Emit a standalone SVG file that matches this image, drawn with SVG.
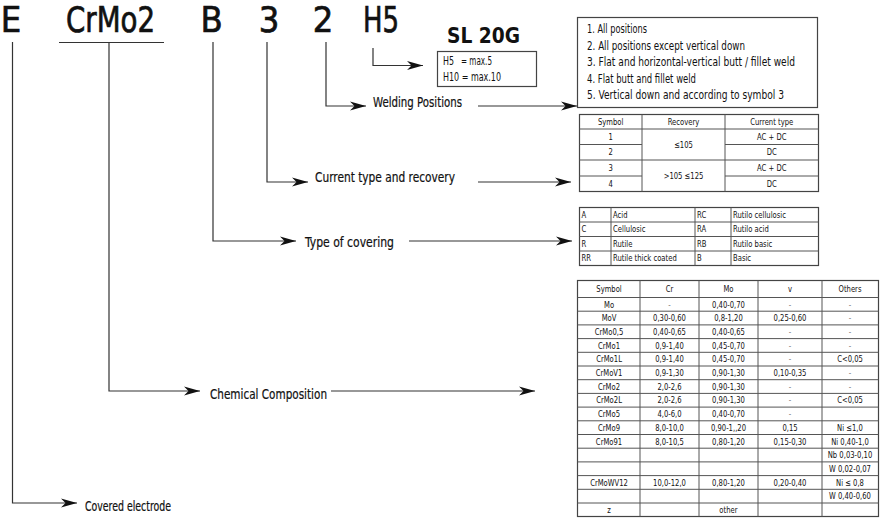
<svg xmlns="http://www.w3.org/2000/svg" width="882" height="521" viewBox="0 0 882 521">
<defs>
<style>
text{font-family:'Liberation Sans Narrow','DejaVu Sans Condensed','Liberation Sans',sans-serif;fill:#111}
.big{font-size:36px;stroke:#111;stroke-width:0.7}
.lbl{font-size:14px;stroke:#111;stroke-width:0.2}
.pos{font-size:11.5px}
.t{font-size:9.5px;text-anchor:middle}
.tl{font-size:9.5px}
.dash{fill:#777}
.conn{stroke:#333;stroke-width:1.2;fill:none}
.box{stroke:#444;stroke-width:1.2;fill:#fff}
.grid{stroke:#555;stroke-width:1;fill:none}
</style>
<marker id="ah" markerUnits="userSpaceOnUse" markerWidth="18" markerHeight="10" refX="16" refY="5" orient="auto"><path d="M0,0.5 L16,5 L0,9.5 L4.5,5 z" fill="#111"/></marker>
</defs>
<rect width="882" height="521" fill="#fff"/>

<g id="code-E"><text class="big" x="11" y="32" text-anchor="middle">E</text></g>
<g id="code-CrMo2"><text class="big" x="66" y="32" textLength="89" lengthAdjust="spacingAndGlyphs">CrMo2</text></g>
<g id="code-B"><text class="big" x="211.5" y="32" text-anchor="middle">B</text></g>
<g id="code-3"><text class="big" x="269" y="32" text-anchor="middle">3</text></g>
<g id="code-2"><text class="big" x="323" y="32" text-anchor="middle">2</text></g>
<g id="code-H5"><text class="big" x="363" y="32" textLength="36" lengthAdjust="spacingAndGlyphs">H5</text></g>

<g id="title"><text x="447" y="43" font-size="22" font-weight="bold" textLength="73" lengthAdjust="spacingAndGlyphs">SL 20G</text></g>

<g id="hydrogen-box">
<rect class="box" x="437.5" y="51.5" width="99" height="35"/>
<text class="pos" x="443" y="65" textLength="11" lengthAdjust="spacingAndGlyphs">H5</text>
<text class="pos" x="461" y="65" textLength="31" lengthAdjust="spacingAndGlyphs">= max.5</text>
<text class="pos" x="443" y="81" textLength="58" lengthAdjust="spacingAndGlyphs">H10 = max.10</text>
</g>

<g id="label-welding"><text class="lbl" x="373" y="107" textLength="89" lengthAdjust="spacingAndGlyphs">Welding Positions</text></g>
<g id="label-current"><text class="lbl" x="315" y="181.5" textLength="140" lengthAdjust="spacingAndGlyphs">Current type and recovery</text></g>
<g id="label-covering"><text class="lbl" x="305" y="246.5" textLength="89" lengthAdjust="spacingAndGlyphs">Type of covering</text></g>
<g id="label-chemical"><text class="lbl" x="210" y="399" textLength="117" lengthAdjust="spacingAndGlyphs">Chemical Composition</text></g>
<g id="label-electrode"><text class="lbl" x="85" y="511" textLength="86" lengthAdjust="spacingAndGlyphs">Covered electrode</text></g>

<g id="positions-box">
<rect class="box" x="577.5" y="17.5" width="240" height="90"/>
<text class="pos" x="587" y="33" textLength="60" lengthAdjust="spacingAndGlyphs">1. All positions</text>
<text class="pos" x="587" y="49.5" textLength="158" lengthAdjust="spacingAndGlyphs">2. All positions except vertical down</text>
<text class="pos" x="587" y="66" textLength="208" lengthAdjust="spacingAndGlyphs">3. Flat and horizontal-vertical butt / fillet weld</text>
<text class="pos" x="587" y="82.5" textLength="109" lengthAdjust="spacingAndGlyphs">4. Flat butt and fillet weld</text>
<text class="pos" x="587" y="99" textLength="197" lengthAdjust="spacingAndGlyphs">5. Vertical down and according to symbol 3</text>
</g>

<g id="current-table">
<rect class="box" x="579.5" y="114.5" width="239" height="77"/>
<path class="grid" d="M642,114.5V191.5 M725,114.5V191.5 M579.5,129H818.5 M725,144.5H818.5 M579.5,160H818.5 M725,176H818.5 M579.5,144.5H642 M579.5,176H642"/>
<g transform="scale(0.8,1)">
<text class="t" x="763.4" y="125">Symbol</text>
<text class="t" x="854.4" y="125">Recovery</text>
<text class="t" x="964.7" y="125">Current type</text>
<text class="t" x="763.4" y="140">1</text>
<text class="t" x="763.4" y="155.5">2</text>
<text class="t" x="763.4" y="171.5">3</text>
<text class="t" x="763.4" y="187.5">4</text>
<text class="t" x="854.4" y="148">≤105</text>
<text class="t" x="854.4" y="179.5">&gt;105 ≤125</text>
<text class="t" x="964.7" y="140">AC + DC</text>
<text class="t" x="964.7" y="155.5">DC</text>
<text class="t" x="964.7" y="171.5">AC + DC</text>
<text class="t" x="964.7" y="187.5">DC</text>
</g>
</g>

<g id="covering-table">
<rect class="box" x="579.5" y="207.5" width="239" height="58"/>
<path class="grid" d="M611,207.5V265.5 M695,207.5V265.5 M731,207.5V265.5 M579.5,222H818.5 M579.5,236.5H818.5 M579.5,251H818.5"/>
<g transform="scale(0.8,1)">
<text class="tl" x="726.9" y="218">A</text><text class="tl" x="766.3" y="218">Acid</text><text class="tl" x="871.3" y="218">RC</text><text class="tl" x="916.3" y="218">Rutilo cellulosic</text>
<text class="tl" x="726.9" y="232.5">C</text><text class="tl" x="766.3" y="232.5">Cellulosic</text><text class="tl" x="871.3" y="232.5">RA</text><text class="tl" x="916.3" y="232.5">Rutilo acid</text>
<text class="tl" x="726.9" y="247">R</text><text class="tl" x="766.3" y="247">Rutile</text><text class="tl" x="871.3" y="247">RB</text><text class="tl" x="916.3" y="247">Rutilo basic</text>
<text class="tl" x="726.9" y="261.5">RR</text><text class="tl" x="766.3" y="261.5">Rutile thick coated</text><text class="tl" x="871.3" y="261.5">B</text><text class="tl" x="916.3" y="261.5">Basic</text>
</g>
</g>

<g id="chemical-table">
<rect class="box" x="577.5" y="280.5" width="301" height="236"/>
<path class="grid" d="M640,280.5V516.5 M699,280.5V516.5 M758,280.5V516.5 M822,280.5V516.5
M577.5,297.5H878.5 M577.5,311.2H878.5 M577.5,324.9H878.5 M577.5,338.6H878.5 M577.5,352.3H878.5 M577.5,366H878.5 M577.5,379.7H878.5 M577.5,393.4H878.5 M577.5,407.1H878.5 M577.5,420.8H878.5 M577.5,434.5H878.5 M577.5,448.2H878.5 M577.5,461.9H878.5 M577.5,475.6H878.5 M577.5,489.3H878.5 M577.5,503H878.5"/>
<g transform="scale(0.8,1)">
<text class="t" x="761.3" y="292">Symbol</text><text class="t" x="836.9" y="292">Cr</text><text class="t" x="910.6" y="292">Mo</text><text class="t" x="987.5" y="292">v</text><text class="t" x="1062.5" y="292">Others</text>

<text class="t" x="761.3" y="307.6">Mo</text><text class="t dash" x="836.9" y="307.6">-</text><text class="t" x="910.6" y="307.6">0,40-0,70</text><text class="t dash" x="987.5" y="307.6">-</text><text class="t dash" x="1062.5" y="307.6">-</text>
<text class="t" x="761.3" y="321.3">MoV</text><text class="t" x="836.9" y="321.3">0,30-0,60</text><text class="t" x="910.6" y="321.3">0,8-1,20</text><text class="t" x="987.5" y="321.3">0,25-0,60</text><text class="t dash" x="1062.5" y="321.3">-</text>
<text class="t" x="761.3" y="335">CrMo0,5</text><text class="t" x="836.9" y="335">0,40-0,65</text><text class="t" x="910.6" y="335">0,40-0,65</text><text class="t dash" x="987.5" y="335">-</text><text class="t dash" x="1062.5" y="335">-</text>
<text class="t" x="761.3" y="348.7">CrMo1</text><text class="t" x="836.9" y="348.7">0,9-1,40</text><text class="t" x="910.6" y="348.7">0,45-0,70</text><text class="t dash" x="987.5" y="348.7">-</text><text class="t dash" x="1062.5" y="348.7">-</text>
<text class="t" x="761.3" y="362.4">CrMo1L</text><text class="t" x="836.9" y="362.4">0,9-1,40</text><text class="t" x="910.6" y="362.4">0,45-0,70</text><text class="t dash" x="987.5" y="362.4">-</text><text class="t" x="1062.5" y="362.4">C&lt;0,05</text>
<text class="t" x="761.3" y="376.1">CrMoV1</text><text class="t" x="836.9" y="376.1">0,9-1,30</text><text class="t" x="910.6" y="376.1">0,90-1,30</text><text class="t" x="987.5" y="376.1">0,10-0,35</text><text class="t dash" x="1062.5" y="376.1">-</text>
<text class="t" x="761.3" y="389.8">CrMo2</text><text class="t" x="836.9" y="389.8">2,0-2,6</text><text class="t" x="910.6" y="389.8">0,90-1,30</text><text class="t dash" x="987.5" y="389.8">-</text><text class="t dash" x="1062.5" y="389.8">-</text>
<text class="t" x="761.3" y="403.5">CrMo2L</text><text class="t" x="836.9" y="403.5">2,0-2,6</text><text class="t" x="910.6" y="403.5">0,90-1,30</text><text class="t dash" x="987.5" y="403.5">-</text><text class="t" x="1062.5" y="403.5">C&lt;0,05</text>
<text class="t" x="761.3" y="417.2">CrMo5</text><text class="t" x="836.9" y="417.2">4,0-6,0</text><text class="t" x="910.6" y="417.2">0,40-0,70</text><text class="t dash" x="987.5" y="417.2">-</text>
<text class="t" x="761.3" y="430.9">CrMo9</text><text class="t" x="836.9" y="430.9">8,0-10,0</text><text class="t" x="910.6" y="430.9">0,90-1,,20</text><text class="t" x="987.5" y="430.9">0,15</text><text class="t" x="1062.5" y="430.9">Ni ≤1,0</text>
<text class="t" x="761.3" y="444.6">CrMo91</text><text class="t" x="836.9" y="444.6">8,0-10,5</text><text class="t" x="910.6" y="444.6">0,80-1,20</text><text class="t" x="987.5" y="444.6">0,15-0,30</text><text class="t" x="1062.5" y="444.6">Ni 0,40-1,0</text>
<text class="t" x="1062.5" y="458.3">Nb 0,03-0,10</text>
<text class="t" x="1062.5" y="472">W 0,02-0,07</text>
<text class="t" x="761.3" y="485.7">CrMoWV12</text><text class="t" x="836.9" y="485.7">10,0-12,0</text><text class="t" x="910.6" y="485.7">0,80-1,20</text><text class="t" x="987.5" y="485.7">0,20-0,40</text><text class="t" x="1062.5" y="485.7">Ni ≤ 0,8</text>
<text class="t" x="1062.5" y="499.4">W 0,40-0,60</text>
<text class="t" x="761.3" y="513.1">z</text><text class="t" x="910.6" y="513" font-size="8">other</text>
</g>
</g>

<g id="connectors">
<path class="conn" d="M59,42.5H164"/>
<path class="conn" d="M12.5,42V503H77" marker-end="url(#ah)"/>
<path class="conn" d="M109,42.5V391H200" marker-end="url(#ah)"/>
<path class="conn" d="M213,42V241H296" marker-end="url(#ah)"/>
<path class="conn" d="M267,42V182H308" marker-end="url(#ah)"/>
<path class="conn" d="M326,42V106H366" marker-end="url(#ah)"/>
<path class="conn" d="M373,48V65.5H423" marker-end="url(#ah)"/>
<path class="conn" d="M478,106H577" marker-end="url(#ah)"/>
<path class="conn" d="M478,182H571" marker-end="url(#ah)"/>
<path class="conn" d="M409,241H572" marker-end="url(#ah)"/>
<path class="conn" d="M331,391H535" marker-end="url(#ah)"/>
</g>
</svg>
